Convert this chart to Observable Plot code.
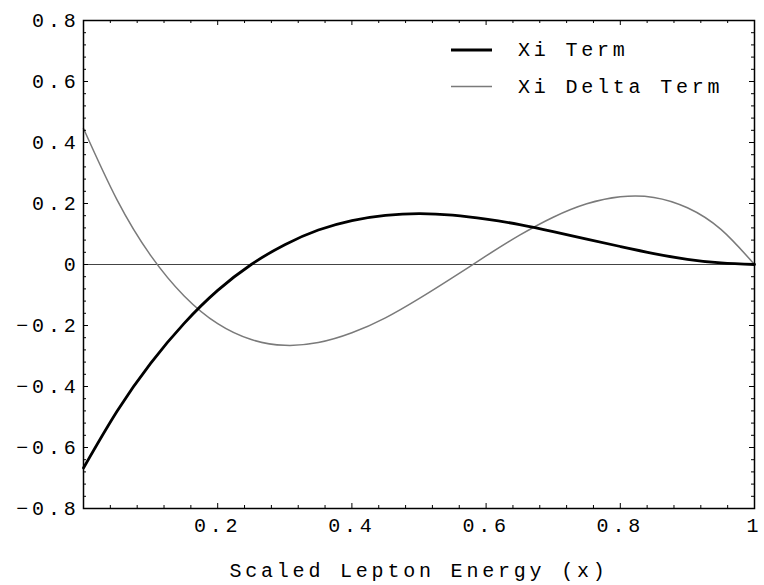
<!DOCTYPE html>
<html><head><meta charset="utf-8">
<script src="https://cdn.jsdelivr.net/npm/d3@7"></script>
<script src="https://cdn.jsdelivr.net/npm/@observablehq/plot@0.6"></script>
<style>
body{margin:0;background:#fff}
#wrap{position:relative;width:764px;height:585px}
#legend{position:absolute;left:0;top:0;pointer-events:none}
</style></head><body><div id="wrap"></div>
<script>
// ---- data ----
const xs = [0,0.05,0.1,0.15,0.2,0.25,0.3,0.35,0.4,0.45,0.5,0.55,0.6,0.65,0.7,0.75,0.8,0.85,0.9,0.95,1];
const xiTerm = [-0.667,-0.481,-0.324,-0.193,-0.085,0.0,0.065,0.113,0.144,0.161,0.167,0.162,0.149,0.131,0.108,0.083,0.059,0.036,0.017,0.005,0.0];
const xiDeltaTerm = [0.446,0.212,0.030,-0.103,-0.194,-0.246,-0.265,-0.256,-0.224,-0.175,-0.112,-0.043,0.028,0.096,0.155,0.199,0.222,0.220,0.186,0.115,0.0];
const seriesNames = ["Xi Term", "Xi Delta Term"];
const xLabel = "Scaled Lepton Energy (x)";
const xMajorTicks = [0.2,0.4,0.6,0.8,1];
const xMinorTicks = [0.04,0.08,0.12,0.16,0.24,0.28,0.32,0.36,0.44,0.48,0.52,0.56,0.64,0.68,0.72,0.76,0.84,0.88,0.92,0.96];
const yMajorTicks = [-0.8,-0.6,-0.4,-0.2,0,0.2,0.4,0.6,0.8];
const yMinorTicks = [-0.76,-0.72,-0.68,-0.64,-0.56,-0.52,-0.48,-0.44,-0.36,-0.32,-0.28,-0.24,-0.16,-0.12,-0.08,-0.04,0.04,0.08,0.12,0.16,0.24,0.28,0.32,0.36,0.44,0.48,0.52,0.56,0.64,0.68,0.72,0.76];

const colors = ["#000000", "#7a7a7a"];
const widths = [2.8, 1.5];

const rows1 = xs.map((x, i) => ({x, y: xiTerm[i]}));
const rows2 = xs.map((x, i) => ({x, y: xiDeltaTerm[i]}));

const W = 764, H = 585, mL = 83, mR = 10, mT = 20, mB = 77;
const innerW = W - mL - mR, innerH = H - mT - mB;
const FONT = "'Courier New', 'Liberation Mono', monospace";

const yFmt = d => d === 0 ? "0" : (d < 0 ? "\u2212" : "") + Math.abs(d).toFixed(1);
const xFmt = d => d === 1 ? "1" : d.toFixed(1);

const chart = Plot.plot({
  width: W, height: H,
  marginLeft: mL, marginRight: mR, marginTop: mT, marginBottom: mB,
  style: `font-family:${FONT};font-size:20px;letter-spacing:3.8px;background:#fff;color:#000`,
  x: {domain: [0, 1]},
  y: {domain: [-0.8, 0.8]},
  marks: [
    Plot.ruleY([0], {stroke: "#444", strokeWidth: 1}),
    Plot.line(rows2, {x: "x", y: "y", stroke: colors[1], strokeWidth: widths[1], curve: "natural"}),
    Plot.line(rows1, {x: "x", y: "y", stroke: colors[0], strokeWidth: widths[0], curve: "natural"}),
    // inward ticks on all four sides
    Plot.tickX(xMajorTicks, {x: d => d, insetTop: innerH - 5, stroke: "#000"}),
    Plot.tickX(xMinorTicks, {x: d => d, insetTop: innerH - 3, stroke: "#000"}),
    Plot.tickX(xMajorTicks, {x: d => d, insetBottom: innerH - 5, stroke: "#000"}),
    Plot.tickX(xMinorTicks, {x: d => d, insetBottom: innerH - 3, stroke: "#000"}),
    Plot.tickY(yMajorTicks, {y: d => d, insetRight: innerW - 5, stroke: "#000"}),
    Plot.tickY(yMinorTicks, {y: d => d, insetRight: innerW - 3, stroke: "#000"}),
    Plot.tickY(yMajorTicks, {y: d => d, insetLeft: innerW - 5, stroke: "#000"}),
    Plot.tickY(yMinorTicks, {y: d => d, insetLeft: innerW - 3, stroke: "#000"}),
    Plot.frame({stroke: "#000", strokeWidth: 1.5}),
    Plot.axisX(xMajorTicks, {anchor: "bottom", tickSize: 0, tickPadding: 9, tickFormat: xFmt, label: null, fontSize: 20}),
    Plot.axisY(yMajorTicks, {anchor: "left", tickSize: 0, tickPadding: 4, tickFormat: yFmt, label: null, fontSize: 20}),
    Plot.text([xLabel], {text: d => d, frameAnchor: "bottom", dy: 62, fontSize: 20, lineAnchor: "middle"})
  ]
});
const wrap = document.getElementById("wrap");
wrap.appendChild(chart);

// legend overlay
const ns = "http://www.w3.org/2000/svg";
const lg = document.createElementNS(ns, "svg");
lg.setAttribute("id", "legend");
lg.setAttribute("width", W); lg.setAttribute("height", H);
const legendY = [50, 86.5];
seriesNames.forEach((name, i) => {
  const ln = document.createElementNS(ns, "line");
  ln.setAttribute("x1", 451); ln.setAttribute("x2", 492);
  ln.setAttribute("y1", legendY[i]); ln.setAttribute("y2", legendY[i]);
  ln.setAttribute("stroke", colors[i]); ln.setAttribute("stroke-width", widths[i]);
  lg.appendChild(ln);
  const t = document.createElementNS(ns, "text");
  t.setAttribute("x", 518); t.setAttribute("y", legendY[i]);
  t.setAttribute("dy", "0.32em");
  t.setAttribute("style", `font-family:${FONT};font-size:20px;letter-spacing:3.8px`);
  t.textContent = name;
  lg.appendChild(t);
});
wrap.appendChild(lg);
</script>
</body></html>
